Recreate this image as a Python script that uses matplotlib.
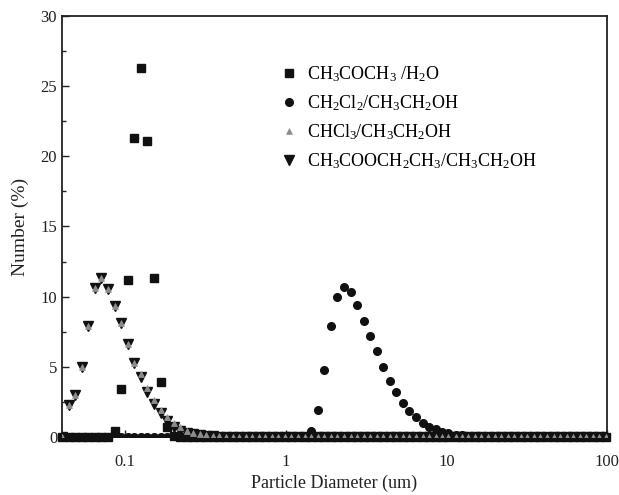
import matplotlib
matplotlib.use("Agg")
import matplotlib.pyplot as plt
from matplotlib.ticker import MultipleLocator, FixedLocator, NullFormatter, FixedFormatter

plt.rcParams['font.family'] = ['Liberation Serif', 'DejaVu Serif']
plt.rcParams['mathtext.fontset'] = 'custom'
plt.rcParams['mathtext.rm'] = 'Liberation Serif'
plt.rcParams['mathtext.it'] = 'Liberation Serif:italic'
plt.rcParams['mathtext.default'] = 'rm'

# Size classes of the particle size analyser (um)
diameters = [0.0405, 0.0445, 0.0489, 0.0537, 0.059, 0.0648, 0.0711, 0.0781, 0.0858, 0.0943,
             0.104, 0.114, 0.125, 0.137, 0.151, 0.166, 0.182, 0.200, 0.220, 0.241,
             0.265, 0.291, 0.320, 0.351, 0.386, 0.424, 0.466, 0.512, 0.562, 0.617,
             0.678, 0.745, 0.818, 0.899, 0.987, 1.08, 1.19, 1.31, 1.44, 1.58,
             1.74, 1.91, 2.09, 2.30, 2.53, 2.78, 3.05, 3.35, 3.68, 4.04,
             4.44, 4.88, 5.36, 5.88, 6.46, 7.10, 7.80, 8.57, 9.41, 10.3,
             11.4, 12.5, 13.7, 15.1, 16.5, 18.2, 20.0, 21.9, 24.1, 26.5,
             29.1, 31.9, 35.1, 38.5, 42.3, 46.5, 51.1, 56.1, 61.6, 67.7,
             74.3, 81.7, 89.7, 98.6]

# Number (%) per size class
acetone_water = [0, 0, 0, 0, 0, 0, 0, 0, 0.45, 3.4,
                 11.2, 21.3, 26.3, 21.1, 11.3, 3.9, 0.7, 0.1, 0, 0,
                 0, 0, 0, 0, 0, 0, 0, 0, 0, 0,
                 0, 0, 0, 0, 0, 0, 0, 0, 0, 0,
                 0, 0, 0, 0, 0, 0, 0, 0, 0, 0,
                 0, 0, 0, 0, 0, 0, 0, 0, 0, 0,
                 0, 0, 0, 0, 0, 0, 0, 0, 0, 0,
                 0, 0, 0, 0, 0, 0, 0, 0, 0, 0,
                 0, 0, 0, 0]

dcm_ethanol = [0, 0, 0, 0, 0, 0, 0, 0, 0, 0,
               0, 0, 0, 0, 0, 0, 0, 0, 0, 0,
               0, 0, 0, 0, 0, 0, 0, 0, 0, 0,
               0, 0, 0, 0, 0, 0, 0, 0, 0.4, 1.9,
               4.8, 7.9, 10.0, 10.7, 10.3, 9.4, 8.3, 7.2, 6.1, 5.0,
               4.0, 3.2, 2.45, 1.86, 1.4, 1.02, 0.74, 0.55, 0.36, 0.25,
               0.17, 0.12, 0.08, 0.05, 0.03, 0, 0, 0, 0, 0,
               0, 0, 0, 0, 0, 0, 0, 0, 0, 0,
               0, 0, 0, 0]

chloroform_ethanol = [0, 2.3, 3.0, 5.0, 7.9, 10.6, 11.3, 10.55, 9.3, 8.1,
                      6.6, 5.3, 4.5, 3.5, 2.6, 1.95, 1.4, 1.0, 0.7, 0.45,
                      0.3, 0.2, 0.12, 0.08, 0.05, 0, 0, 0, 0, 0,
                      0, 0, 0, 0, 0, 0, 0, 0, 0, 0,
                      0, 0, 0, 0, 0, 0, 0, 0, 0, 0,
                      0, 0, 0, 0, 0, 0, 0, 0, 0, 0,
                      0, 0, 0, 0, 0, 0, 0, 0, 0, 0,
                      0, 0, 0, 0, 0, 0, 0, 0, 0, 0,
                      0, 0, 0, 0]

ethylacetate_ethanol = [0, 2.3, 3.0, 5.0, 7.9, 10.6, 11.3, 10.55, 9.3, 8.1,
                        6.6, 5.3, 4.3, 3.2, 2.36, 1.74, 1.14, 0.69, 0.45, 0.3,
                        0.2, 0.12, 0.07, 0.04, 0, 0, 0, 0, 0, 0,
                        0, 0, 0, 0, 0, 0, 0, 0, 0, 0,
                        0, 0, 0, 0, 0, 0, 0, 0, 0, 0,
                        0, 0, 0, 0, 0, 0, 0, 0, 0, 0,
                        0, 0, 0, 0, 0, 0, 0, 0, 0, 0,
                        0, 0, 0, 0, 0, 0, 0, 0, 0, 0,
                        0, 0, 0, 0]

labels = [r"CH$_3$COCH$_3$ /H$_2$O",
          r"CH$_2$Cl$_2$/CH$_3$CH$_2$OH",
          r"CHCl$_3$/CH$_3$CH$_2$OH",
          r"CH$_3$COOCH$_2$CH$_3$/CH$_3$CH$_2$OH"]

x_ticks = [0.1, 1, 10, 100]
x_ticklabels = ["0.1", "1", "10", "100"]

fig = plt.figure(figsize=(6.19, 4.95), dpi=100)
ax = fig.add_axes([0.1002, 0.1172, 0.8804, 0.8505])

ax.plot(diameters, acetone_water, linestyle='none', marker='s', markersize=5.8,
        color='#111111', label=labels[0], clip_on=False, zorder=3)
ax.plot(diameters, dcm_ethanol, linestyle='none', marker='o', markersize=5.5,
        color='#111111', label=labels[1], zorder=3)
ax.plot(diameters, ethylacetate_ethanol, linestyle='none', marker='v', markersize=7.8,
        color='#111111', label=labels[3], zorder=3)
ax.plot(diameters, chloroform_ethanol, linestyle='none', marker='^', markersize=4,
        color='#8a8a8a', markeredgecolor='#9a9a9a', markeredgewidth=0.5, label=labels[2],
        zorder=3)

ax.set_xscale('log')
ax.set_xlim(0.0404, 100)
ax.set_ylim(0, 30)
ax.xaxis.set_major_locator(FixedLocator(x_ticks))
ax.xaxis.set_major_formatter(FixedFormatter(x_ticklabels))
ax.xaxis.set_minor_formatter(NullFormatter())
ax.yaxis.set_major_locator(MultipleLocator(5))
ax.yaxis.set_minor_locator(MultipleLocator(2.5))
ax.tick_params(axis='both', which='both', direction='in', labelsize=12, colors='#222222')
ax.tick_params(axis='y', which='major', length=5, width=1)
ax.tick_params(axis='y', which='minor', length=3, width=1)
ax.tick_params(axis='x', which='major', length=5, width=1, pad=12)
ax.tick_params(axis='x', which='minor', length=3, width=0.8)
for s in ax.spines.values():
    s.set_linewidth(1.3)
    s.set_color('#222222')

ax.set_xlabel("Particle Diameter (um)", fontsize=13, color='#222222')
ax.xaxis.set_label_coords(0.5, -0.09)
ax.set_ylabel("Number (%)", fontsize=14, labelpad=8, color='#222222')

h, l = ax.get_legend_handles_labels()
order = [0, 1, 3, 2]
ax.legend([h[i] for i in order], [l[i] for i in order], loc='upper left',
          bbox_to_anchor=(0.383, 0.903), frameon=False, fontsize=13,
          handlelength=1.2, handletextpad=0.4, labelspacing=0.52, borderaxespad=0)

fig.savefig("out.png", dpi=100)
